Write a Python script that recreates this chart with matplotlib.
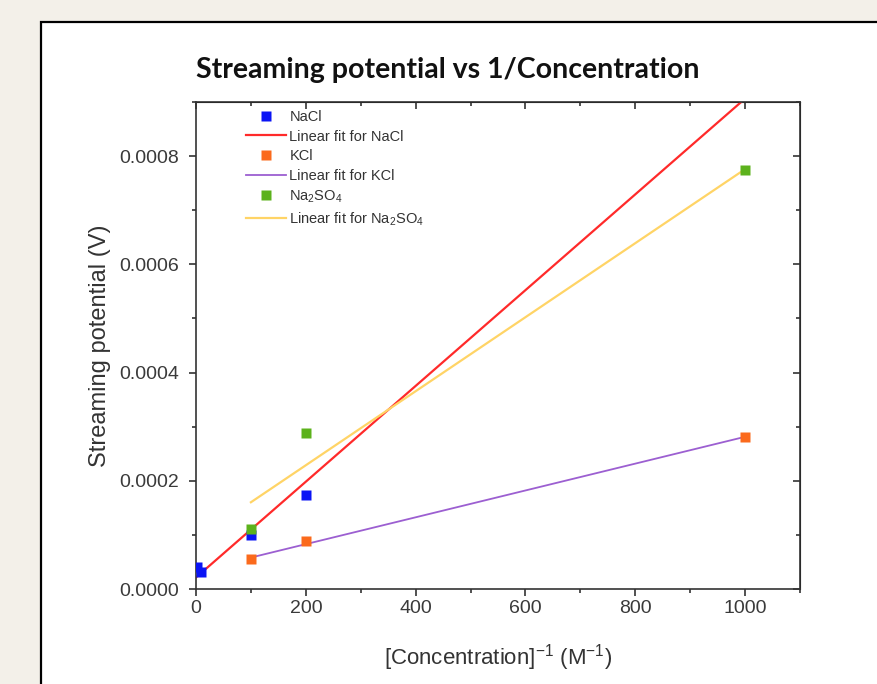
import numpy as np
import matplotlib
matplotlib.use("Agg")
import matplotlib.pyplot as plt
from matplotlib.patches import Rectangle
from matplotlib.ticker import MultipleLocator, FormatStrFormatter

# данные
nacl_x = [1, 10, 100, 200]
nacl_y = [0.0000415, 0.0000305, 0.0000995, 0.000173]
kcl_x = [100, 200, 1000]
kcl_y = [0.000056, 0.000088, 0.000281]
na2so4_x = [100, 200, 1000]
na2so4_y = [0.000111, 0.000288, 0.000775]

# линейные аппроксимации: (наклон, свободный член, диапазон x)
fit_nacl = (8.85e-7, 0.0000213, [1, 1000])
fit_kcl = (2.48e-7, 0.0000333, [100, 1000])
fit_na2so4 = (6.84e-7, 0.0000919, [100, 1000])

plt.rcParams['font.family'] = ['Liberation Sans', 'DejaVu Sans']
plt.rcParams['mathtext.fontset'] = 'custom'
plt.rcParams['mathtext.rm'] = 'Liberation Sans'

fig = plt.figure(figsize=(8.77, 6.84), dpi=100)
fig.patch.set_facecolor('#f3f0e9')

# белая панель с рамкой
panel = Rectangle((41 / 877, -0.1), 1.2, (684 - 22) / 684 + 0.1,
                  transform=fig.transFigure, facecolor='white',
                  edgecolor='black', linewidth=1.6, zorder=-5)
fig.patches.append(panel)

ax = fig.add_axes([196 / 877, 95 / 684, 604 / 877, 487 / 684])
ax.set_facecolor('white')


def fit_line(fit):
    k, b, xr = fit
    xs = np.array(xr, dtype=float)
    return xs, k * xs + b


ms = 6.5
ax.plot(nacl_x, nacl_y, 's', color='#0a14f5', ms=ms, mec='none', label='NaCl', zorder=3)
xs, ys = fit_line(fit_nacl)
ax.plot(xs, ys, '-', color='#ff2a2a', lw=1.6, label='Linear fit for NaCl', zorder=2)
ax.plot(kcl_x, kcl_y, 's', color='#fb6a1c', ms=ms, mec='none', label='KCl', zorder=3)
xs, ys = fit_line(fit_kcl)
ax.plot(xs, ys, '-', color='#9c5fd1', lw=1.3, label='Linear fit for KCl', zorder=2)
ax.plot(na2so4_x, na2so4_y, 's', color='#5cb21c', ms=ms, mec='none',
        label='Na$_\\mathregular{2}$SO$_\\mathregular{4}$', zorder=3)
xs, ys = fit_line(fit_na2so4)
ax.plot(xs, ys, '-', color='#ffd466', lw=1.6,
        label='Linear fit for Na$_\\mathregular{2}$SO$_\\mathregular{4}$', zorder=2)

ax.set_xlim(0, 1100)
ax.set_ylim(0, 0.0009)
ax.xaxis.set_major_locator(MultipleLocator(200))
ax.xaxis.set_minor_locator(MultipleLocator(100))
ax.yaxis.set_major_locator(MultipleLocator(0.0002))
ax.yaxis.set_minor_locator(MultipleLocator(0.0001))
ax.yaxis.set_major_formatter(FormatStrFormatter('%.4f'))

for s in ax.spines.values():
    s.set_linewidth(1.2)
    s.set_color('#333333')

ax.tick_params(which='both', direction='out', top=False, right=False,
               labelsize=14, colors='#333333', labelcolor='#3a3a3a', width=1.2)
ax.tick_params(which='major', length=5)
ax.tick_params(which='minor', length=3)
ax.yaxis.set_tick_params(pad=7)
ax.xaxis.set_tick_params(pad=3)

# внутренние риски сверху и справа
ax2 = ax.secondary_xaxis('top')
ax2.xaxis.set_major_locator(MultipleLocator(200))
ax2.xaxis.set_minor_locator(MultipleLocator(100))
ax2.tick_params(which='both', direction='in', labeltop=False, colors='#333333', width=1.2)
ax2.tick_params(which='major', length=5)
ax2.tick_params(which='minor', length=3)
ax3 = ax.secondary_yaxis('right')
ax3.yaxis.set_major_locator(MultipleLocator(0.0002))
ax3.yaxis.set_minor_locator(MultipleLocator(0.0001))
ax3.tick_params(which='both', direction='in', labelright=False, colors='#333333', width=1.2)
ax3.tick_params(which='major', length=5)
ax3.tick_params(which='minor', length=3)

ax.set_xlabel('[Concentration]$^{\\mathregular{-1}}$ (M$^{\\mathregular{-1}}$)',
              fontsize=16, color='#333333', labelpad=18)
ax.set_ylabel('Streaming potential (V)', fontsize=17, color='#333333', labelpad=6)

fig.text(448 / 877, 1 - 70 / 684, 'Streaming potential vs 1/Concentration',
         ha='center', va='center', fontsize=20.5, fontweight='bold',
         family=['Lato', 'DejaVu Sans'], color='#111111')

leg = ax.legend(loc='upper left', bbox_to_anchor=(0.07, 1.0), frameon=False,
                fontsize=10.5, handlelength=2.7, handletextpad=0.25,
                labelspacing=0.38, borderaxespad=0.15)
for t in leg.get_texts():
    t.set_color('#333333')

fig.savefig('out.png', dpi=100, facecolor=fig.get_facecolor())
